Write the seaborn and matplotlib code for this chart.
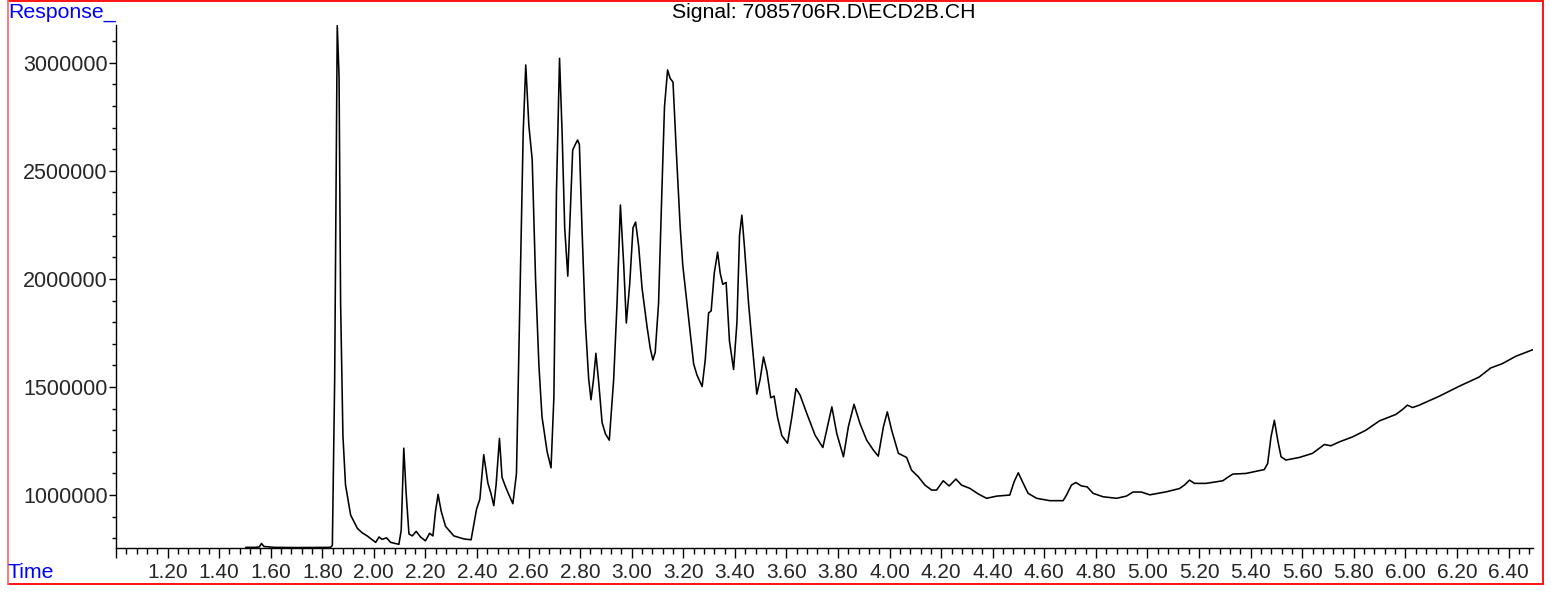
import matplotlib
matplotlib.use("Agg")
import matplotlib.pyplot as plt
from matplotlib.lines import Line2D
from matplotlib.ticker import MultipleLocator, FormatStrFormatter, FuncFormatter
import pandas as pd
import seaborn as sns

# chromatogram trace (time in min, detector response)
time = [1.503, 1.540, 1.556, 1.564, 1.574, 1.613, 1.700, 1.832, 1.839, 1.848,
        1.858, 1.865, 1.871, 1.880, 1.890, 1.910, 1.936, 1.955, 1.974, 2.007, 2.020,
        2.032, 2.049, 2.065, 2.097, 2.106, 2.116, 2.125, 2.136, 2.149, 2.164,
        2.181, 2.200, 2.216, 2.229, 2.239, 2.249, 2.261, 2.278, 2.310, 2.349,
        2.377, 2.398, 2.411, 2.426, 2.442, 2.455, 2.465, 2.474, 2.487, 2.497,
        2.510, 2.523, 2.539, 2.553, 2.566, 2.579, 2.589, 2.601, 2.614, 2.627,
        2.640, 2.652, 2.672, 2.687, 2.698, 2.708, 2.720, 2.730, 2.740, 2.752,
        2.762, 2.771, 2.781, 2.790, 2.797, 2.807, 2.820, 2.833, 2.842, 2.852,
        2.861, 2.872, 2.885, 2.898, 2.913, 2.930, 2.943, 2.956, 2.969, 2.979,
        2.992, 3.005, 3.015, 3.027, 3.040, 3.059, 3.072, 3.082, 3.091, 3.104,
        3.117, 3.127, 3.139, 3.149, 3.160, 3.173, 3.188, 3.198, 3.214, 3.227,
        3.240, 3.253, 3.263, 3.273, 3.285, 3.298, 3.308, 3.320, 3.333, 3.343,
        3.353, 3.366, 3.379, 3.395, 3.408, 3.418, 3.427, 3.437, 3.453, 3.466,
        3.485, 3.498, 3.511, 3.524, 3.539, 3.552, 3.565, 3.582, 3.604, 3.621,
        3.637, 3.653, 3.679, 3.711, 3.741, 3.756, 3.776, 3.795, 3.821, 3.840,
        3.862, 3.885, 3.911, 3.937, 3.956, 3.976, 3.991, 4.008, 4.034, 4.066,
        4.085, 4.111, 4.137, 4.163, 4.182, 4.208, 4.231, 4.257, 4.279, 4.311,
        4.344, 4.376, 4.415, 4.466, 4.483, 4.499, 4.515, 4.537, 4.570, 4.621,
        4.673, 4.686, 4.705, 4.722, 4.744, 4.766, 4.789, 4.828, 4.880, 4.918,
        4.944, 4.976, 5.009, 5.073, 5.124, 5.143, 5.163, 5.182, 5.227, 5.292,
        5.311, 5.331, 5.382, 5.453, 5.466, 5.479, 5.492, 5.505, 5.518, 5.537,
        5.589, 5.640, 5.666, 5.686, 5.711, 5.744, 5.795, 5.847, 5.899, 5.963,
        5.989, 6.008, 6.028, 6.054, 6.131, 6.208, 6.286, 6.331, 6.376, 6.428,
        6.495]

response = [758000, 758000, 760000, 776000, 762000, 758000, 757000, 758000, 767000, 1537000,
            3173000, 2937000, 1887000, 1275000, 1047000, 907000, 846000, 825000, 811000, 781000, 806000,
            795000, 802000, 781000, 772000, 837000, 1217000, 1012000, 820000, 811000, 832000,
            806000, 788000, 823000, 811000, 925000, 1003000, 925000, 855000, 811000, 797000,
            793000, 934000, 981000, 1187000, 1056000, 1003000, 951000, 1047000, 1262000, 1082000,
            1040000, 1003000, 960000, 1100000, 1887000, 2675000, 2990000, 2710000, 2552000, 2000000,
            1600000, 1362000, 1200000, 1126000, 1450000, 2400000, 3021000, 2675000, 2237000, 2013000,
            2325000, 2596000, 2622000, 2643000, 2622000, 2237000, 1800000, 1537000, 1441000, 1537000,
            1656000, 1520000, 1336000, 1283000, 1254000, 1537000, 1887000, 2342000, 2062000, 1796000,
            1975000, 2237000, 2263000, 2150000, 1957000, 1782000, 1677000, 1625000, 1660000, 1887000,
            2412000, 2797000, 2967000, 2928000, 2911000, 2587000, 2237000, 2062000, 1887000, 1747000,
            1607000, 1555000, 1528000, 1502000, 1625000, 1843000, 1852000, 2027000, 2124000, 2027000,
            1975000, 1984000, 1712000, 1581000, 1800000, 2202000, 2295000, 2150000, 1887000, 1712000,
            1467000, 1537000, 1639000, 1572000, 1450000, 1458000, 1362000, 1275000, 1240000, 1362000,
            1493000, 1462000, 1377000, 1277000, 1220000, 1300000, 1408000, 1285000, 1177000, 1316000,
            1420000, 1331000, 1254000, 1208000, 1180000, 1316000, 1385000, 1300000, 1193000, 1174000,
            1115000, 1085000, 1046000, 1023000, 1023000, 1066000, 1042000, 1074000, 1046000, 1031000,
            1005000, 985000, 995000, 1000000, 1062000, 1103000, 1062000, 1008000, 985000, 974000,
            974000, 1000000, 1046000, 1058000, 1042000, 1038000, 1008000, 992000, 985000, 995000,
            1014000, 1014000, 1001000, 1015000, 1030000, 1046000, 1069000, 1054000, 1054000, 1066000,
            1082000, 1097000, 1100000, 1118000, 1146000, 1269000, 1346000, 1254000, 1177000, 1162000,
            1174000, 1193000, 1216000, 1234000, 1228000, 1246000, 1269000, 1300000, 1343000, 1373000,
            1396000, 1416000, 1405000, 1416000, 1457000, 1503000, 1546000, 1588000, 1608000, 1642000,
            1673000]

df = pd.DataFrame({"Time": time, "Response": response})

sns.set_theme(style="white")
plt.rcParams["font.family"] = ["Liberation Sans", "DejaVu Sans"]

W, H = 1551, 593
fig = plt.figure(figsize=(W / 100, H / 100), dpi=100)
ax = fig.add_axes([116 / W, 1 - 548 / H, (1533 - 116) / W, (548 - 25) / H])

sns.lineplot(data=df, x="Time", y="Response", ax=ax, color="black",
             linewidth=1.15, estimator=None, sort=False)

ax.set_xlim(1.0, 6.495)
ax.set_ylim(755000, 3175000)
ax.set_xlabel("")
ax.set_ylabel("")

for s in ["top", "right"]:
    ax.spines[s].set_visible(False)
for s in ["left", "bottom"]:
    ax.spines[s].set_color("black")
    ax.spines[s].set_linewidth(1.0)

ax.xaxis.set_major_locator(MultipleLocator(0.2))
ax.xaxis.set_minor_locator(MultipleLocator(0.04))
ax.xaxis.set_major_formatter(FuncFormatter(lambda v, p: "" if v < 1.1 else f"{v:.2f}"))
ax.yaxis.set_major_locator(MultipleLocator(500000))
ax.yaxis.set_minor_locator(MultipleLocator(100000))
ax.yaxis.set_major_formatter(FormatStrFormatter("%d"))

ax.tick_params(axis="x", which="major", direction="out", length=7, width=1,
               color="black", labelsize=15, pad=4, bottom=True)
ax.tick_params(axis="x", which="minor", direction="out", length=4, width=1,
               color="black", bottom=True)
ax.tick_params(axis="y", which="major", direction="out", length=5, width=1,
               color="black", labelsize=15.5, pad=1, left=True)
ax.tick_params(axis="y", which="minor", direction="out", length=3, width=1,
               color="black", left=True)

# labels placed like the instrument printout
fig.text(8 / W, 1 - 13 / H, "Response_", color="#0000ff", fontsize=15.3,
         ha="left", va="center")
fig.text(8 / W, 1 - 573 / H, "Time", color="#0000ff", fontsize=15.3,
         ha="left", va="center")
fig.text(824 / W, 1 - 12 / H, "Signal: 7085706R.D\\ECD2B.CH", color="black",
         fontsize=15.3, ha="center", va="center")

# red frame round the figure
x0, x1 = 7.5 / W, 1543 / W
y0, y1 = 1 - 583.5 / H, 1 - 0.8 / H
fig.add_artist(Line2D([x0, x1], [y1, y1], color="#ff0000", lw=1.3, transform=fig.transFigure))
fig.add_artist(Line2D([x1, x1], [y0, y1], color="#ff0000", lw=1.3, transform=fig.transFigure))
fig.add_artist(Line2D([x0, x1], [y0, y0], color="#ff0000", lw=1.3, transform=fig.transFigure))
fig.add_artist(Line2D([x0, x0], [y0, y1], color="#ff7070", lw=1.3, transform=fig.transFigure))

fig.savefig("out.png", dpi=100)
